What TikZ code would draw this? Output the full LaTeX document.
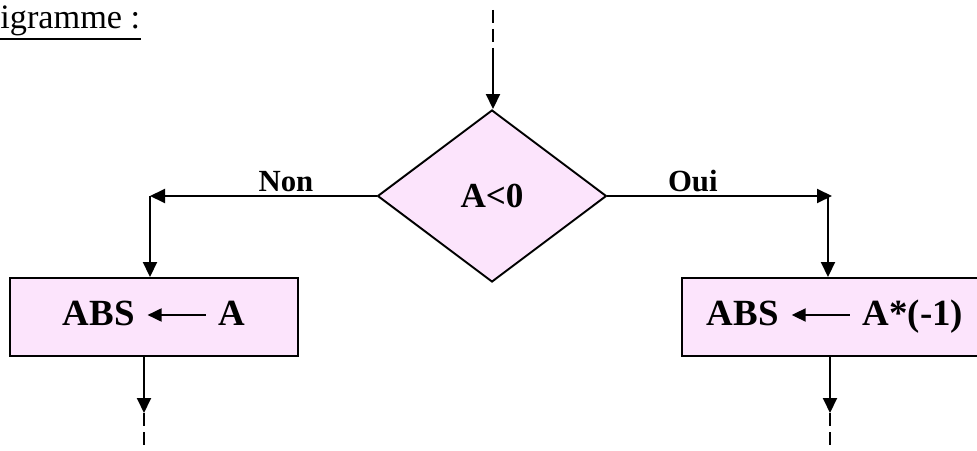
\documentclass[tikz,border=0pt]{standalone}
\usepackage{fontspec}
\setmainfont{Liberation Serif}
\usepackage{xcolor}
\usetikzlibrary{positioning, shapes.geometric, arrows.meta}

\definecolor{rose}{RGB}{252,228,252}
\tikzset{
  fleche/.style={line width=1.1pt, -{Triangle[length=0.3cm, width=0.28cm]}},
  pointille/.style={line width=1.1pt, dash pattern=on 0.26cm off 0.12cm},
  boite/.style={draw, line width=1.1pt, fill=rose, minimum height=1.56cm, text height=0.5cm, text depth=0.18cm, font=\fontsize{21}{24}\selectfont\bfseries},
  test/.style={draw, diamond, line width=1.1pt, fill=rose, inner sep=0pt, minimum width=4.58cm, minimum height=3.44cm, font=\fontsize{20}{24}\selectfont\bfseries},
  etiq/.style={font=\fontsize{17.5}{20}\selectfont\bfseries, inner sep=2pt}
}
\newcommand{\affecte}{\hspace{0.24cm}\tikz[baseline=-0.1cm]\draw[line width=1.1pt, -{Triangle[length=0.28cm, width=0.26cm]}] (1.16,0.1) -- (0,0.1);\hspace{0.24cm}}

\begin{document}
\begin{tikzpicture}
  \useasboundingbox (0,0) rectangle (19.54,9);
  % titre
  \node[anchor=base west, inner sep=0pt, font=\fontsize{19.5}{22}\selectfont] (titre) at (0,8.42) {igramme :};
  \draw[line width=1.1pt] ([yshift=-0.2cm]titre.base west) -- ([yshift=-0.2cm]titre.base east);

  % condition
  \node[test] (cond) at (9.84,5.08) {A<0};
  \node[boite, minimum width=5.76cm] (gauche) at (3.08,2.66) {ABS\affecte A};
  \node[boite, minimum width=6.12cm] (droite) at (16.7,2.66) {ABS\affecte A*(-1)};

  \coordinate (haut) at (9.86,8.8);
  \coordinate (haut2) at (9.86,8.0);
  \coordinate (non) at (3.0,5.08);
  \coordinate (oui) at (16.56,5.08);
  \coordinate (sortg) at (2.88,0.74);
  \coordinate (finl) at (2.88,0);
  \coordinate (sortd) at (16.6,0.74);
  \coordinate (finr) at (16.6,0);

  % entree
  \draw[pointille] (haut) -- (haut2);
  \draw[fleche] (haut2) -- (haut2 |- cond.north);

  % branches
  \draw[fleche] (cond.west) -- node[etiq, pos=0.4, above] {Non} (non);
  \draw[fleche] (non) -- (non |- gauche.north);
  \draw[fleche] (cond.east) -- node[etiq, pos=0.38, above] {Oui} ([xshift=0.08cm]oui);
  \draw[fleche] (oui) -- (oui |- droite.north);

  % sorties
  \draw[fleche] (sortg |- gauche.south) -- (sortg);
  \draw[pointille] (sortg) -- (finl);
  \draw[fleche] (sortd |- droite.south) -- (sortd);
  \draw[pointille] (sortd) -- (finr);
\end{tikzpicture}
\end{document}
